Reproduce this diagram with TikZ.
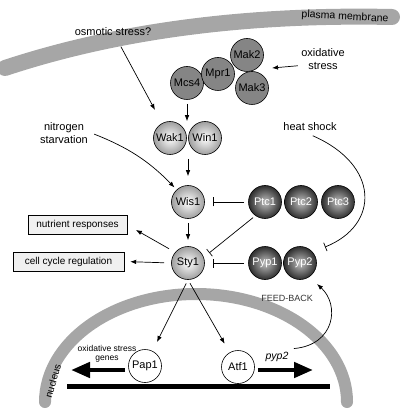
\documentclass[tikz,border=0pt]{standalone}
\usepackage{fontspec}
\setmainfont{Liberation Sans}
\usetikzlibrary{arrows.meta,positioning}

\tikzset{
  prot/.style={circle, draw, line width=0.6pt, minimum size=33pt, inner sep=0pt, font=\fontsize{11}{12}\selectfont},
  kin/.style={prot, fill=black!48},
  ball/.style={prot, inner color=white, outer color=black!38},
  phos/.style={prot, inner color=black!25, outer color=black!82, text=white},
  tf/.style={prot, fill=white},
  lbl/.style={align=center, font=\fontsize{11}{12.5}\selectfont},
  outbox/.style={draw, fill=black!6, minimum height=19pt, inner sep=2pt, font=\fontsize{10}{12}\selectfont},
  act/.style={-{Latex[length=6pt,width=4.5pt]}, line width=0.7pt},
  inh/.style={-{Bar[width=9pt]}, line width=0.7pt},
  band/.style={line width=16pt, line cap=round, draw=black!35},
  big/.style={-{Triangle[length=19pt,width=15pt]}, line width=4.5pt}
}

\begin{document}
\begin{tikzpicture}[x=1pt, y=-1pt]

    \useasboundingbox (0,0) rectangle (400,411);

    % plasma membrane and nucleus envelope
    \draw[band] (5,68) .. controls (120,30) and (250,14) .. (392,17);
    \node[rotate=-3, font=\fontsize{10.5}{12}\selectfont] (pm) at (345,17) {plasma membrane};
    \draw[band, line width=12pt] (45,402) arc[start angle=180, end angle=360, x radius=151, y radius=108];
    \node[rotate=74, inner sep=0pt, font=\fontsize{10}{12}\selectfont] (nuc) at (53,381) {nucleus};

    % DNA
    \draw[line width=5pt] (67,386) -- (330,386);

    % upstream kinases
    \node[kin] (Mak2) at (247,55) {Mak2};
    \node[kin] (Mak3) at (252,88) {Mak3};
    \node[kin] (Mcs4) at (187,83) {Mcs4};
    \node[kin] (Mpr1) at (218,74) {Mpr1};

    % MAPK cascade
    \node[ball] (Wak1) at (170,138) {Wak1};
    \node[ball] (Win1) at (205,138) {Win1};
    \node[ball] (Wis1) at (188,202) {Wis1};
    \node[ball] (Sty1) at (188,263) {Sty1};

    % phosphatases
    \node[phos] (Ptc1) at (265,202) {Ptc1};
    \node[phos] (Ptc2) at (301,202) {Ptc2};
    \node[phos] (Ptc3) at (338,202) {Ptc3};
    \node[phos] (Pyp1) at (265,263) {Pyp1};
    \node[phos] (Pyp2) at (300,263) {Pyp2};

    % transcription factors
    \node[tf] (Pap1) at (145,366) {Pap1};
    \node[tf] (Atf1) at (238,367) {Atf1};

    % labels and outputs
    \node[lbl] (osm) at (113,32) {osmotic stress?};
    \node[lbl] (oxs) at (323,59) {oxidative\\stress};
    \node[lbl] (nit) at (64,133) {nitrogen\\starvation};
    \node[lbl] (heat) at (310,127) {heat shock};
    \node[font=\fontsize{9}{11}\selectfont, text=black!80] (fb) at (287,298) {FEED-BACK};
    \node[outbox, minimum width=99pt] (nutr) at (77.5,225) {nutrient responses};
    \node[outbox, minimum width=111pt] (ccr) at (68.5,261.5) {cell cycle regulation};
    \node[align=center, font=\fontsize{8.5}{9.5}\selectfont] (oxg) at (107,354) {oxidative stress\\genes};
    \node[font=\itshape\fontsize{10.5}{12}\selectfont] (pyp) at (277,357) {pyp2};

    % free ends
    \coordinate (osmend) at (155,110);
    \coordinate (oxend) at (272,68);
    \coordinate (hsend) at (325,247);
    \coordinate (fbend) at (317,284);
    \coordinate (genL) at (71,370);
    \coordinate (genR) at (313,370);

    % activations
    \draw[act, shorten <=8pt] (osm) -- (osmend);
    \draw[act] (oxs.195) -- (oxend);
    \draw[act, shorten <=4pt] (Mcs4) -- (Mcs4 |- Win1.north);
    \draw[act, shorten <=4pt, shorten >=9pt] (Wis1 |- Wak1.south) -- (Wis1);
    \draw[act, shorten <=4pt, shorten >=6pt] (Wis1) -- (Sty1);
    \draw[act, shorten <=3pt, shorten >=3pt] (nit.east) to[bend left=12] (Wis1);
    \draw[act, shorten <=7pt, shorten >=10pt] (Sty1.140) -- (nutr.east);
    \draw[act, shorten <=7pt, shorten >=6pt] (Sty1.west) -- (ccr.east);
    \draw[act, shorten <=4pt, shorten >=10pt] (Sty1.south) -- (Pap1);
    \draw[act, shorten <=4pt, shorten >=10pt] (Sty1.south) -- (Atf1);
    \draw[act, shorten <=2pt] (pyp.north east) .. controls (335,345) and (340,305) .. (fbend);

    % inhibitions
    \draw[inh, shorten <=4pt, shorten >=8pt] (Ptc1) -- (Wis1);
    \draw[inh, shorten <=4pt, shorten >=8pt] (Pyp1) -- (Sty1);
    \draw[inh, shorten <=3pt, shorten >=7pt] (Ptc1.235) -- (Sty1.20);
    \draw[inh, shorten <=3pt] (heat.south) .. controls (380,165) and (380,225) .. (hsend);

    % gene expression
    \draw[big, shorten <=3pt] (Pap1.west |- genL) -- (genL);
    \draw[big, shorten <=3pt] (Atf1.east |- genR) -- (genR);

\end{tikzpicture}
\end{document}
